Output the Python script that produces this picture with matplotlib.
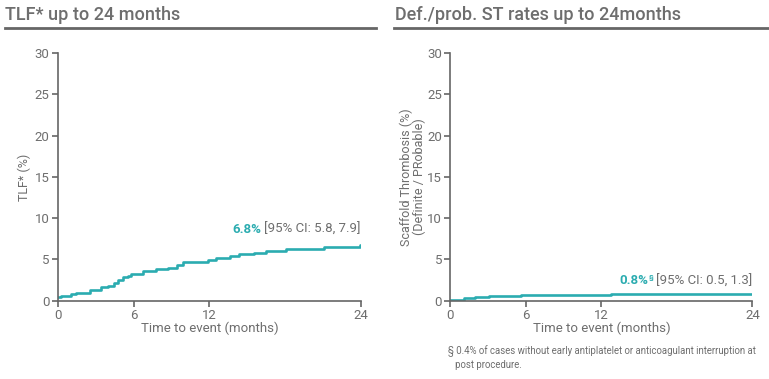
import matplotlib.pyplot as plt

plt.rcParams['font.family'] = ['Roboto', 'DejaVu Sans']

# KM step data (months, %)
tlf_months = [0, 0.26, 1.06, 1.45, 2.5, 3.4, 4.0, 4.4, 4.75, 5.15, 5.55, 5.8,
              6.74, 7.8, 8.7, 9.4, 9.9, 11.9, 12.55, 13.6, 14.3, 15.5, 16.5,
              18.1, 21.1, 23.9, 24]
tlf_rate = [0.4, 0.57, 0.8, 0.97, 1.3, 1.58, 1.8, 2.1, 2.5, 2.8, 3.0, 3.2,
            3.6, 3.85, 4.0, 4.25, 4.65, 4.93, 5.13, 5.38, 5.6, 5.8, 6.0,
            6.27, 6.55, 6.75, 6.75]

st_months = [0, 1.06, 2.0, 3.1, 3.6, 5.6, 12.8, 24]
st_rate = [0.1, 0.25, 0.4, 0.5, 0.6, 0.65, 0.75, 0.75]

x_ticks = [0, 6, 12, 24]
y_ticks = [0, 5, 10, 15, 20, 25, 30]

teal = '#2bacb0'
grey = '#6e6e6e'
axis_grey = '#666666'

fig = plt.figure(figsize=(7.69, 3.79), dpi=100)

def panel(rect, months, rate, ylabel, big, rest, label_y, sup=None, ypad=6):
    ax = fig.add_axes(rect)
    ax.step(months, rate, where='post', color=teal, lw=1.9)
    ax.set_xlim(0, 24)
    ax.set_ylim(0, 30)
    ax.set_xticks(x_ticks)
    ax.set_yticks(y_ticks)
    for s in ['top', 'right']:
        ax.spines[s].set_visible(False)
    for s in ['left', 'bottom']:
        ax.spines[s].set_color(axis_grey)
        ax.spines[s].set_linewidth(1.2)
    ax.tick_params(colors=axis_grey, labelcolor=grey, labelsize=9.5,
                   length=4, width=1.2, pad=2)
    ax.set_xlabel('Time to event (months)', color=grey, fontsize=9.5, labelpad=0)
    ax.set_ylabel(ylabel, color=grey, fontsize=9, labelpad=ypad, linespacing=0.95)
    ax.patch.set_visible(False)
    t = ax.text(24, label_y, rest, ha='right', va='bottom', color=grey, fontsize=9.5)
    gap = -2
    if sup:
        ax.annotate(sup, xy=(0, 0.45), xycoords=t, xytext=(-1.5, 0),
                    textcoords='offset points', ha='right', va='bottom',
                    color=teal, fontsize=5.5, fontweight='bold')
        gap = -5.5
    ax.annotate(big, xy=(0, 0), xycoords=t, xytext=(gap, 0),
                textcoords='offset points', ha='right', va='bottom',
                color=teal, fontsize=9.5, fontweight='bold')
    return ax

panel([0.0754, 0.2071, 0.394, 0.6523], tlf_months, tlf_rate, 'TLF* (%)',
      '6.8%', '[95% CI: 5.8, 7.9]', 7.8, ypad=2.5)
panel([0.5856, 0.2071, 0.3927, 0.6523], st_months, st_rate,
      'Scaffold Thrombosis (%)\n(Definite / PRobable)',
      '0.8%', '[95% CI: 0.5, 1.3]', 1.6, sup='§', ypad=1)

# titles with underline
fig.text(0.007, 0.947, 'TLF* up to 24 months', color=grey, fontsize=13,
         fontweight='medium', ha='left', va='baseline')
fig.text(0.514, 0.947, 'Def./prob. ST rates up to 24months', color=grey, fontsize=13,
         fontweight='medium', ha='left', va='baseline')
fig.add_artist(plt.Line2D([0.007, 0.489], [0.927, 0.927], color=axis_grey, lw=2))
fig.add_artist(plt.Line2D([0.512, 1.0], [0.927, 0.927], color=axis_grey, lw=2))

fig.text(0.583, 0.029, '§ 0.4% of cases without early antiplatelet or anticoagulant interruption at\n   post procedure.',
         color=grey, fontsize=6.9, ha='left', va='baseline', linespacing=1.35)

fig.savefig('out.png', dpi=100)
